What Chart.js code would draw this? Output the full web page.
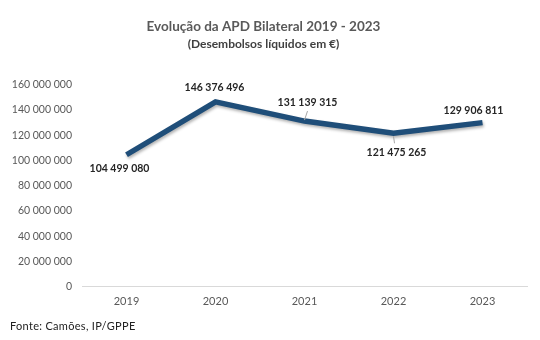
<!DOCTYPE html>
<html>
<head>
<meta charset="utf-8">
<script src="https://cdn.jsdelivr.net/npm/chart.js@4"></script>
<style>
    body { margin: 0; background: #fff; }
    #wrap { position: relative; width: 540px; height: 340px; }
    #footer { position: absolute; left: 10px; top: 319px; font: 11px Lato, sans-serif; color: #222; letter-spacing: 0.3px; }
</style>
</head>
<body>
<div id="wrap">
    <canvas id="chart" width="540" height="340"></canvas>
    <div id="footer">Fonte: Camões, IP/GPPE</div>
</div>
<script>
// Chart data
const years = ['2019', '2020', '2021', '2022', '2023'];
const disbursements = [104499080, 146376496, 131139315, 121475265, 129906811];

const fmt = v => Math.round(v).toString().replace(/\B(?=(\d{3})+(?!\d))/g, ' ');

// Soft shadow under the line
const lineShadow = {
    id: 'lineShadow',
    beforeDatasetDraw(chart) {
        const ctx = chart.ctx;
        ctx.save();
        ctx.shadowColor = 'rgba(0,0,0,0.3)';
        ctx.shadowBlur = 3;
        ctx.shadowOffsetX = 1;
        ctx.shadowOffsetY = 2;
    },
    afterDatasetDraw(chart) {
        chart.ctx.restore();
    }
};

// Data labels drawn next to each point
const valueLabels = {
    id: 'valueLabels',
    afterDatasetsDraw(chart) {
        const ctx = chart.ctx;
        const meta = chart.getDatasetMeta(0);
        // dx, dy offsets of label centre and whether a leader line is drawn
        const place = [[-7, 14, false], [-1, -14, false], [3, -18, true], [3, 19, true], [-9, -12, false]];
        ctx.save();
        ctx.font = 'bold 10.5px Lato, sans-serif';
        ctx.fillStyle = '#262626';
        ctx.textAlign = 'center';
        ctx.textBaseline = 'middle';
        meta.data.forEach((pt, i) => {
            const [dx, dy, leader] = place[i];
            const x = pt.x + dx, y = pt.y + dy;
            if (leader) {
                ctx.strokeStyle = '#a6a6a6';
                ctx.lineWidth = 1;
                ctx.beginPath();
                if (dy < 0) { ctx.moveTo(x, y + 8); ctx.lineTo(pt.x, pt.y - 1); }
                else { ctx.moveTo(pt.x, pt.y + 3); ctx.lineTo(pt.x + 1, y - 9); }
                ctx.stroke();
            }
            ctx.fillText(fmt(disbursements[i]), x, y);
        });
        ctx.restore();
    }
};

new Chart(document.getElementById('chart'), {
    type: 'line',
    data: {
        labels: years,
        datasets: [{
            data: disbursements,
            borderColor: '#1F4E79',
            borderWidth: 5.5,
            pointRadius: 0,
            tension: 0,
            borderCapStyle: 'butt',
            borderJoinStyle: 'miter'
        }]
    },
    options: {
        responsive: false,
        animation: false,
        layout: { padding: { top: 0, right: 13, bottom: 24, left: 0 } },
        plugins: {
            legend: { display: false },
            tooltip: { enabled: false },
            title: {
                display: true,
                text: 'Evolução da APD Bilateral 2019 - 2023',
                color: '#595959',
                font: { family: 'Lato, sans-serif', size: 13.5, weight: 'bold' },
                padding: { top: 19, bottom: 2 }
            },
            subtitle: {
                display: true,
                text: '(Desembolsos líquidos em €)',
                color: '#404040',
                font: { family: 'Lato, sans-serif', size: 12, weight: 'bold' },
                padding: { top: 0, bottom: 33 }
            }
        },
        scales: {
            x: {
                offset: true,
                grid: { display: false, drawTicks: false },
                border: { display: true, color: '#d9d9d9', width: 1 },
                ticks: { color: '#595959', font: { family: 'Lato, sans-serif', size: 11 }, padding: 8 }
            },
            y: {
                min: 0,
                max: 160000000,
                grid: { display: false, drawTicks: false },
                border: { display: false },
                afterFit: s => { s.width = 82; },
                ticks: {
                    stepSize: 20000000,
                    color: '#595959',
                    padding: 10,
                    font: { family: 'Lato, sans-serif', size: 10.5 },
                    callback: v => fmt(v)
                }
            }
        }
    },
    plugins: [lineShadow, valueLabels]
});
</script>
</body>
</html>
